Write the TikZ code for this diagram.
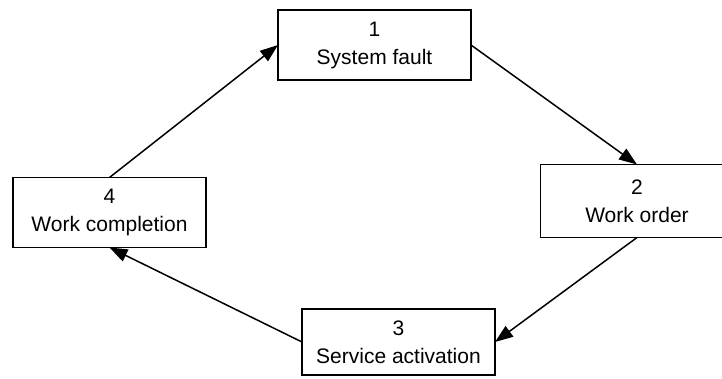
\documentclass[tikz,border=0pt]{standalone}
\usepackage{fontspec}
\setmainfont{Liberation Sans}
\usetikzlibrary{arrows.meta}
\begin{document}
\begin{tikzpicture}[x=0.5pt,y=-0.5pt,
        stage/.style={draw,line width=0.55pt,minimum width=96.5pt,minimum height=35pt,inner sep=0pt,outer sep=0pt,align=center,font=\fontsize{10.5}{14}\selectfont},
        flow/.style={line width=0.75pt,-{Triangle[length=9pt,width=6.5pt]}}]
        \useasboundingbox (0,0) rectangle (722,379);
        %% stages of the cycle
        \node[stage] (s1) at (374.5,45) {1\\System fault};
        \node[stage,minimum height=36.5pt] (s2) at (637,201) {2\\Work order};
        \node[stage,minimum height=33pt] (s3) at (398.5,342) {3\\Service activation};
        \node[stage] (s4) at (109.5,212.5) {4\\Work completion};
        %% arrows round the cycle
        \foreach \a/\b in {s1.east/s2.north,s2.south/s3.east,s3.west/s4.south,s4.north/s1.west}
            \draw[flow] (\a) -- (\b);
\end{tikzpicture}
\end{document}
